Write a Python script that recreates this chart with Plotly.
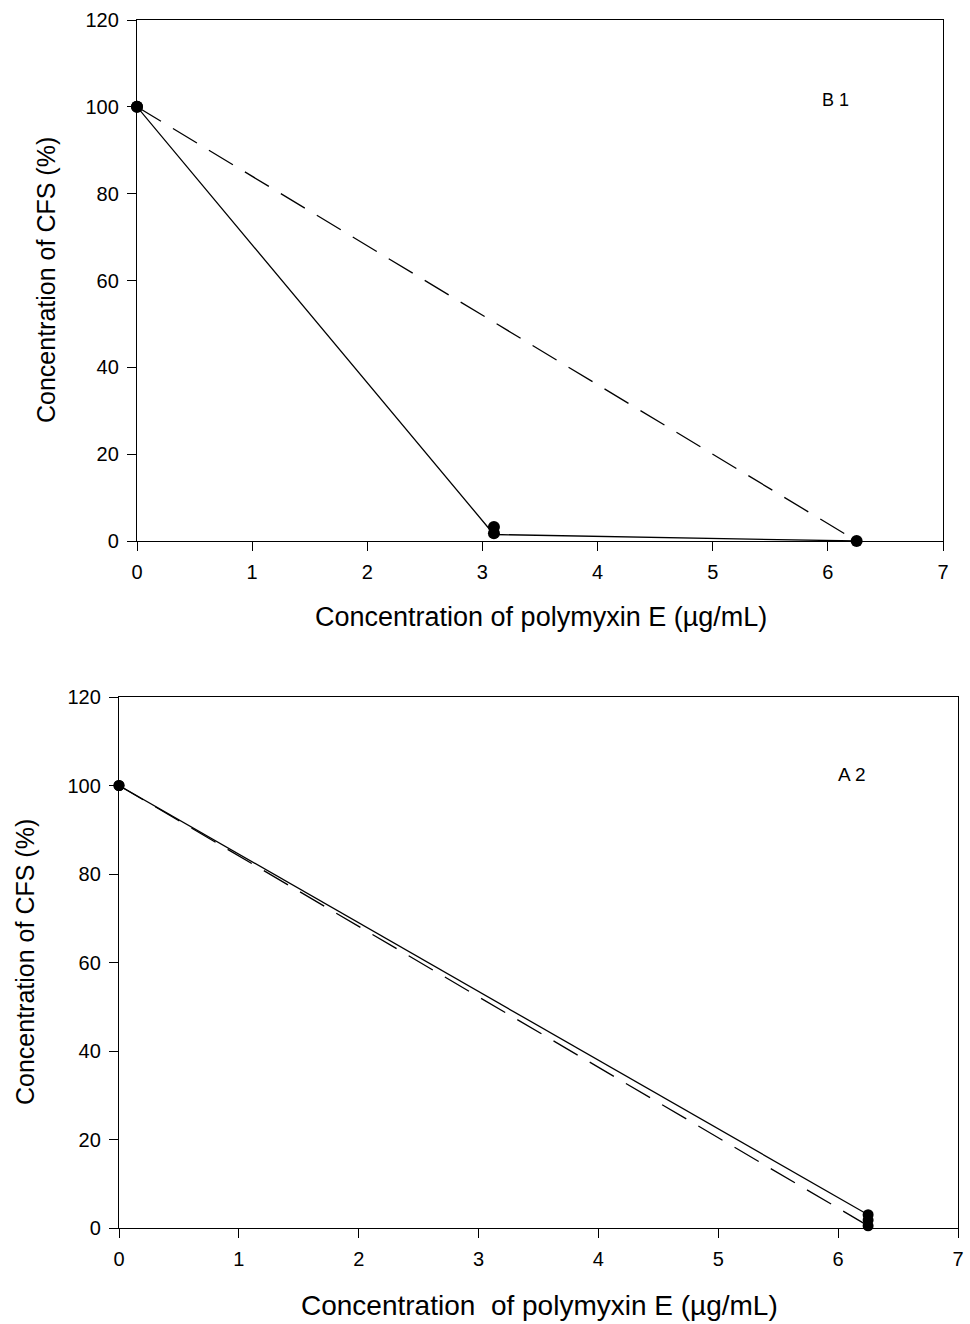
import plotly.graph_objects as go

# Panel B1 data
b1_solid_x = [0, 3.1, 6.25]
b1_solid_y = [100, 1.5, 0]
b1_dash_x = [0, 6.25]
b1_dash_y = [100, 0]
b1_marker_x = [0, 0, 3.1, 3.1, 6.25]
b1_marker_y = [100, 100, 3.2, 1.8, 0]

# Panel A2 data
a2_solid_x = [0, 6.25]
a2_solid_y = [100, 3]
a2_dash_x = [0, 6.25]
a2_dash_y = [100, 0.5]
a2_marker_x = [0, 0, 6.25, 6.25, 6.25]
a2_marker_y = [100, 100, 3, 1.8, 0.5]

x_ticks = [0, 1, 2, 3, 4, 5, 6, 7]
y_ticks = [0, 20, 40, 60, 80, 100, 120]

W, H = 970, 1324
FONT = "Liberation Sans, Arial, sans-serif"

fig = go.Figure()
line_style = dict(color="black", width=1.3)
dash_style = dict(color="black", width=1.3, dash="28px,14px")

fig.add_trace(go.Scatter(x=b1_solid_x, y=b1_solid_y, mode="lines", line=line_style, xaxis="x", yaxis="y", showlegend=False))
fig.add_trace(go.Scatter(x=b1_dash_x, y=b1_dash_y, mode="lines", line=dash_style, xaxis="x", yaxis="y", showlegend=False))
fig.add_trace(go.Scatter(x=b1_marker_x, y=b1_marker_y, mode="markers", marker=dict(color="black", size=12), cliponaxis=False, xaxis="x", yaxis="y", showlegend=False))

fig.add_trace(go.Scatter(x=a2_solid_x, y=a2_solid_y, mode="lines", line=line_style, xaxis="x2", yaxis="y2", showlegend=False))
fig.add_trace(go.Scatter(x=a2_dash_x, y=a2_dash_y, mode="lines", line=dash_style, xaxis="x2", yaxis="y2", showlegend=False))
fig.add_trace(go.Scatter(x=a2_marker_x, y=a2_marker_y, mode="markers", marker=dict(color="black", size=11), cliponaxis=False, xaxis="x2", yaxis="y2", showlegend=False))

ax_common = dict(showgrid=False, zeroline=False, showline=True, linecolor="black", linewidth=1.3,
                 mirror=True, ticks="outside", ticklen=9, tickcolor="black", tickwidth=1.3,
                 automargin=False, ticklabelstandoff=4,
                 tickfont=dict(family=FONT, size=20, color="black"))

def px_x(p):
    return p / W

def px_y(p):
    return 1 - p / H

fig.update_layout(
    width=W, height=H,
    margin=dict(l=0, r=0, t=0, b=0),
    paper_bgcolor="white", plot_bgcolor="white",
    xaxis=dict(domain=[px_x(137), px_x(943)], range=[0, 7], tickvals=x_ticks, anchor="y", **ax_common),
    yaxis=dict(domain=[px_y(541), px_y(20)], range=[0, 120], tickvals=y_ticks, anchor="x", **ax_common),
    xaxis2=dict(domain=[px_x(119), px_x(958)], range=[0, 7], tickvals=x_ticks, anchor="y2", **ax_common),
    yaxis2=dict(domain=[px_y(1228), px_y(697)], range=[0, 120], tickvals=y_ticks, anchor="x2", **ax_common),
    annotations=[
        dict(text="Concentration of polymyxin E (µg/mL)", x=px_x(541), y=px_y(617), xref="paper", yref="paper",
             showarrow=False, font=dict(family=FONT, size=27, color="black"), xanchor="center", yanchor="middle"),
        dict(text="Concentration of CFS (%)", x=px_x(46), y=px_y(280), xref="paper", yref="paper", textangle=-90,
             showarrow=False, font=dict(family=FONT, size=25, color="black"), xanchor="center", yanchor="middle"),
        dict(text="B 1", x=px_x(835), y=px_y(100), xref="paper", yref="paper",
             showarrow=False, font=dict(family=FONT, size=18, color="black"), xanchor="center", yanchor="middle"),
        dict(text="Concentration  of polymyxin E (µg/mL)", x=px_x(539), y=px_y(1305), xref="paper", yref="paper",
             showarrow=False, font=dict(family=FONT, size=28, color="black"), xanchor="center", yanchor="middle"),
        dict(text="Concentration of CFS (%)", x=px_x(25), y=px_y(962), xref="paper", yref="paper", textangle=-90,
             showarrow=False, font=dict(family=FONT, size=25, color="black"), xanchor="center", yanchor="middle"),
        dict(text="A 2", x=px_x(851), y=px_y(774), xref="paper", yref="paper",
             showarrow=False, font=dict(family=FONT, size=19, color="black"), xanchor="center", yanchor="middle"),
    ],
)

fig.write_html("out.html")
